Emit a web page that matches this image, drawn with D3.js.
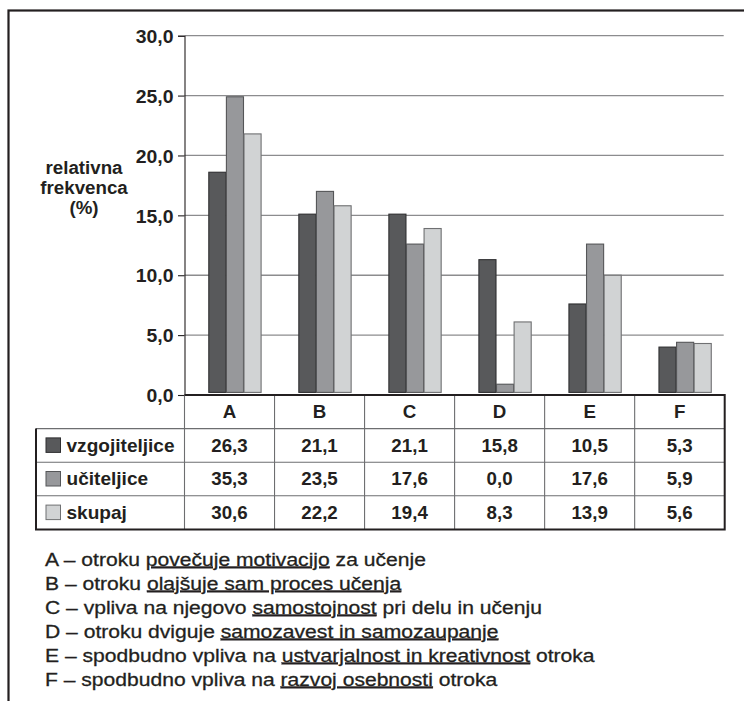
<!DOCTYPE html>
<html>
<head>
<meta charset="utf-8">
<script src="https://cdn.jsdelivr.net/npm/d3@7"></script>
<style>
  html, body { margin: 0; padding: 0; background: #fff; }
  svg { display: block; }
  text { font-family: "Liberation Sans", Arial, Helvetica, sans-serif; fill: #231f20; }
</style>
</head>
<body>
<svg id="chart" width="744" height="701"></svg>
<script>
// Categories (answers A–F) and series
const categories = ["A", "B", "C", "D", "E", "F"];
const seriesNames = ["vzgojiteljice", "učiteljice", "skupaj"];
const seriesColors = ["#58595b", "#97989b", "#d1d3d4"];
const seriesStrokes = ["#2f2f31", "#555658", "#6f7072"];

// Bar heights on the relative-frequency axis
const vzgojiteljiceBars = [18.6, 15.1, 15.1, 11.3, 7.6, 4.0];
const uciteljiceBars    = [24.9, 17.0, 12.6, 0.9, 12.6, 4.4];
const skupajBars        = [21.8, 15.8, 13.9, 6.1, 10.0, 4.3];

// Values listed in the data table under the chart
const vzgojiteljiceTable = [26.3, 21.1, 21.1, 15.8, 10.5, 5.3];
const uciteljiceTable    = [35.3, 23.5, 17.6, 0.0, 17.6, 5.9];
const skupajTable        = [30.6, 22.2, 19.4, 8.3, 13.9, 5.6];

// Y axis ticks
const yTicks = [0, 5, 10, 15, 20, 25, 30];

// Category descriptions; underlined parts are marked with u: true
const descriptions = [
  [{t: "A – otroku "}, {t: "povečuje motivacijo", u: true}, {t: " za učenje"}],
  [{t: "B – otroku "}, {t: "olajšuje sam proces učenja", u: true}],
  [{t: "C – vpliva na njegovo "}, {t: "samostojnost", u: true}, {t: " pri delu in učenju"}],
  [{t: "D – otroku dviguje "}, {t: "samozavest in samozaupanje", u: true}],
  [{t: "E – spodbudno vpliva na "}, {t: "ustvarjalnost in kreativnost", u: true}, {t: " otroka"}],
  [{t: "F – spodbudno vpliva na "}, {t: "razvoj osebnosti", u: true}, {t: " otroka"}]
];

const barSeries = [vzgojiteljiceBars, uciteljiceBars, skupajBars];
const tableSeries = [vzgojiteljiceTable, uciteljiceTable, skupajTable];

const locale = d3.formatLocale({decimal: ",", thousands: ".", grouping: [3], currency: ["", ""]});
const fmt = locale.format(".1f");

const svg = d3.select("#chart");

// Layout
const plotLeft = 184.5, plotRight = 724.7;
const plotTop = 35.7, plotBottom = 395;
const rowH = 33.6;
const tableLeft = 36;

// The typeface is a little wider than Liberation Sans, so text is stretched horizontally
const wideText = (sel, x, y, sx) =>
  sel.attr("transform", `translate(${x},${y}) scale(${sx},1)`);

const x0 = d3.scaleBand().domain(categories).range([plotLeft, plotRight]);
const x1 = d3.scaleBand().domain(d3.range(seriesNames.length)).range([23.8, 76.6]);
const y = d3.scaleLinear().domain([0, 30]).range([plotBottom, plotTop]);

// Outer frame
svg.append("rect")
  .attr("x", 8.5).attr("y", 10.5).attr("width", 780).attr("height", 720)
  .attr("fill", "none").attr("stroke", "#231f20").attr("stroke-width", 2.2);

// Gridlines
svg.append("g").selectAll("line")
  .data(yTicks.filter(d => d > 0))
  .join("line")
  .attr("x1", plotLeft).attr("x2", plotRight - 1)
  .attr("y1", d => y(d)).attr("y2", d => y(d))
  .attr("stroke", "#8c8c8e").attr("stroke-width", 1.3);

// Y axis
const yAxis = d3.axisLeft(y).tickValues(yTicks).tickSize(6.5).tickPadding(4.5).tickFormat(fmt);
const gy = svg.append("g").attr("transform", `translate(${plotLeft},0)`).call(yAxis);
gy.select(".domain").attr("stroke", "#231f20").attr("stroke-width", 1.1);
gy.selectAll(".tick line").attr("stroke", "#231f20").attr("stroke-width", 1.1);
gy.selectAll(".tick text")
  .attr("font-size", 18.5).attr("font-weight", "bold")
  .attr("font-family", "'Liberation Sans', Arial, sans-serif")
  .attr("fill", "#231f20").attr("dy", "0.36em")
  .attr("x", 0)
  .attr("transform", "translate(-11,0) scale(1.05,1)");

// Y axis title
const yTitle = svg.append("text")
  .attr("text-anchor", "middle")
  .attr("font-size", 17.5).attr("font-weight", "bold");
wideText(yTitle, 84, 174, 1.07);
["relativna", "frekvenca", "(%)"].forEach((s, i) => {
  yTitle.append("tspan").attr("x", 0).attr("y", i * 19.8).text(s);
});

// Bars
const groups = svg.append("g").selectAll("g")
  .data(categories)
  .join("g")
  .attr("transform", d => `translate(${x0(d)},0)`);

groups.selectAll("rect")
  .data((c, ci) => barSeries.map((s, si) => ({si, v: s[ci]})))
  .join("rect")
  .attr("x", d => x1(d.si) + 0.5)
  .attr("width", x1.bandwidth() - 0.5)
  .attr("y", d => y(d.v))
  .attr("height", d => y(0) - 2.6 - y(d.v))
  .attr("fill", d => seriesColors[d.si])
  .attr("stroke", d => seriesStrokes[d.si])
  .attr("stroke-width", 1.1);

// Data table
const tableTop = plotBottom;
const table = svg.append("g");
const rowsY = [0, 1, 2, 3, 4].map(i => tableTop + i * rowH);

// inner horizontal lines
table.selectAll("line.h")
  .data([rowsY[1], rowsY[2], rowsY[3]])
  .join("line")
  .attr("x1", tableLeft).attr("x2", plotRight)
  .attr("y1", d => d).attr("y2", d => d)
  .attr("stroke", "#6d6e70").attr("stroke-width", 1.1);

// vertical column separators
table.selectAll("line.v")
  .data(categories.slice(1))
  .join("line")
  .attr("x1", d => x0(d)).attr("x2", d => x0(d))
  .attr("y1", tableTop).attr("y2", rowsY[4])
  .attr("stroke", "#6d6e70").attr("stroke-width", 1.1);

table.append("line")
  .attr("x1", plotLeft).attr("x2", plotLeft)
  .attr("y1", tableTop).attr("y2", rowsY[4])
  .attr("stroke", "#6d6e70").attr("stroke-width", 1.1);

// outer borders
table.append("path")
  .attr("d", `M${plotLeft},${tableTop} H${plotRight} V${rowsY[4]} H${tableLeft} V${rowsY[1]}`)
  .attr("fill", "none").attr("stroke", "#231f20").attr("stroke-width", 2);

// header labels
categories.forEach(c => {
  const t = table.append("text")
    .attr("dy", "0.36em")
    .attr("text-anchor", "middle")
    .attr("font-size", 17.5).attr("font-weight", "bold")
    .text(c);
  wideText(t, x0(c) + x0.bandwidth() / 2, tableTop + rowH / 2, 1.07);
});

// series rows
seriesNames.forEach((name, si) => {
  const cy = rowsY[si + 1] + rowH / 2;
  table.append("rect")
    .attr("x", 46).attr("y", cy - 7.5).attr("width", 14.5).attr("height", 14.5)
    .attr("fill", seriesColors[si]).attr("stroke", seriesStrokes[si]).attr("stroke-width", 1);
  const label = table.append("text")
    .attr("dy", "0.36em")
    .attr("font-size", 17.5).attr("font-weight", "bold")
    .text(name);
  wideText(label, 66.5, cy, 1.09);
  tableSeries[si].forEach((v, i) => {
    const t = table.append("text")
      .attr("dy", "0.36em")
      .attr("text-anchor", "middle")
      .attr("font-size", 17.5).attr("font-weight", "bold")
      .text(fmt(v));
    wideText(t, x0(categories[i]) + x0.bandwidth() / 2, cy, 1.07);
  });
});

// Descriptions
descriptions.forEach((parts, i) => {
  const t = svg.append("text")
    .attr("font-size", 18.5)
    .attr("stroke", "#231f20").attr("stroke-width", 0.3);
  wideText(t, 45, 565.5 + i * 24, 1.14);
  parts.forEach(p => {
    const sp = t.append("tspan").text(p.t);
    if (p.u) sp.attr("text-decoration", "underline");
  });
});
</script>
</body>
</html>
